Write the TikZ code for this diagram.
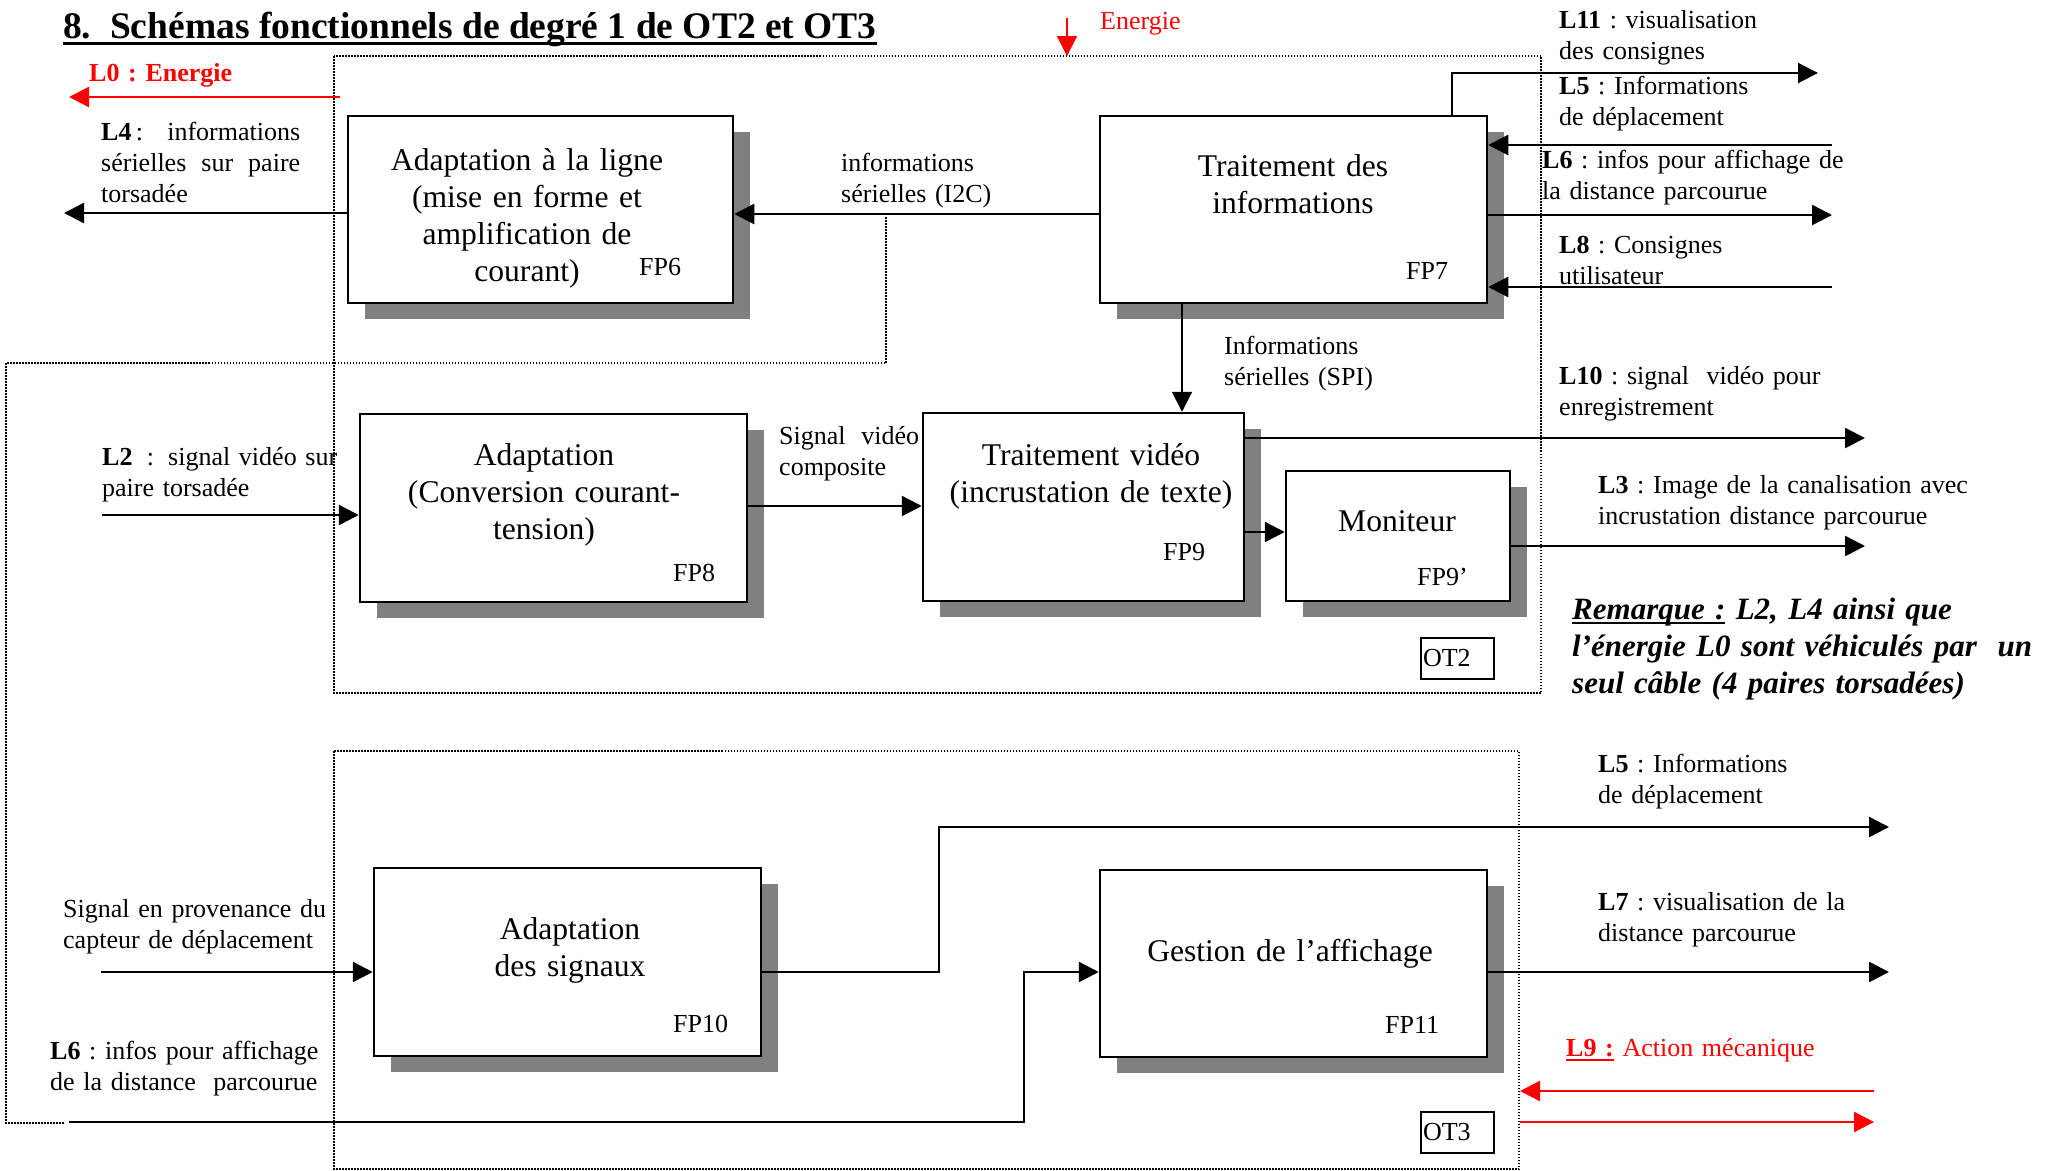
\documentclass[tikz,border=0pt]{standalone}
\usepackage{fontspec}
\setmainfont{Liberation Serif}
\usetikzlibrary{arrows.meta,shadows}
\definecolor{shadowgray}{HTML}{808080}
\frenchspacing
\newcommand\fsm{\fontsize{26}{31}\selectfont\frenchspacing}
\newcommand\fbg{\fontsize{31.6}{37}\selectfont\frenchspacing}
\newcommand\myul[1]{\setbox0\hbox{#1}\rlap{\rule[-5pt]{\wd0}{2.5pt}}\box0\relax}
\begin{document}
\begin{tikzpicture}[x=1pt,y=-1pt,
  fbox/.style={draw, line width=2.5pt, fill=white, inner sep=0pt,
    general shadow={fill=shadowgray, shadow xshift=17pt, shadow yshift=-16pt}},
  conn/.style={line width=2.5pt, -{Triangle[length=20pt,width=20pt]}},
  thinconn/.style={line width=2pt, -{Triangle[length=20pt,width=20pt]}},
  redconn/.style={red, line width=2.5pt, -{Triangle[length=20pt,width=20pt]}},
  dots/.style={line width=1.5pt, dash pattern=on 1.5pt off 1.5pt},
  lbl/.style={inner sep=0pt, anchor=base west, font=\fsm, text width=520pt, align=left},
  intxt/.style={inner sep=0pt, anchor=base, font=\fbg, text width=380pt, align=center},
  fp/.style={inner sep=0pt, anchor=base west, font=\fsm},
  otbox/.style={draw, line width=2pt, inner sep=2pt, minimum height=41pt, text width=69pt, align=left, font=\fsm}
]
\fill[white] (0,0) rectangle (2056,1170);
\useasboundingbox (0,0) rectangle (2056,1170);

% title
\node[inner sep=0pt, anchor=base west, font=\fontsize{37.5}{44}\selectfont\bfseries\frenchspacing] (title) at (63,38) {8.\ \ Schémas fonctionnels de degré 1 de OT2 et OT3};
\draw[line width=3pt] ([yshift=-5pt]title.base west) -- ([yshift=-5pt]title.base east);

% dotted frames
\draw[dots] (334,56) rectangle (1541,693);
\draw[dots] (886,217) -- (886,363) -- (6,363) -- (6,1123) -- (64,1123);
\draw[dots] (334,751) rectangle (1519,1169);

% boxes
\node[fbox, minimum width=385pt, minimum height=187pt] (FP6) at (540.5,209.5) {};
\node[fbox, minimum width=387pt, minimum height=187pt] (FP7) at (1293.5,209.5) {};
\node[fbox, minimum width=387pt, minimum height=188pt] (FP8) at (553.5,508) {};
\node[fbox, minimum width=321pt, minimum height=188pt] (FP9) at (1083.5,507) {};
\node[fbox, minimum width=224pt, minimum height=130pt] (MON) at (1398,536) {};
\node[fbox, minimum width=387pt, minimum height=188pt] (FP10) at (567.5,962) {};
\node[fbox, minimum width=387pt, minimum height=187pt] (FP11) at (1293.5,963.5) {};

\node[otbox] (OT2) at (1457.5,658.5) {OT2};
\node[otbox] (OT3) at (1457.5,1132) {OT3};

% box texts
\node[intxt] (t6) at (527,170) {Adaptation à la ligne\\(mise en forme et\\amplification de\\courant)};
\node[fp] (n6) at (639,275) {FP6};
\node[intxt] (t7) at (1293,176) {Traitement des\\informations};
\node[fp] (n7) at (1406,279) {FP7};
\node[intxt] (t8) at (544,465) {Adaptation\\(Conversion courant-\\tension)};
\node[fp] (n8) at (673,581) {FP8};
\node[intxt] (t9) at (1091,465) {Traitement vidéo\\(incrustation de texte)};
\node[fp] (n9) at (1163,560) {FP9};
\node[intxt] (tm) at (1397,531) {Moniteur};
\node[fp] (nm) at (1417,585) {FP9’};
\node[intxt] (t10) at (570,939) {Adaptation\\des signaux};
\node[fp] (n10) at (673,1032) {FP10};
\node[intxt] (t11) at (1290,961) {Gestion de l’affichage};
\node[fp] (n11) at (1385,1033) {FP11};

% connectors
\coordinate (L0a) at (340,97); \coordinate (L0b) at (69,97);
\draw[redconn] (L0a) -- (L0b);
\coordinate (Ea) at (1067,18); \coordinate (Eb) at (1067,56);
\draw[redconn, line width=2pt] (Ea) -- (Eb);
\coordinate (L4e) at (64,213);
\draw[conn] (FP6.west |- L4e) -- (L4e);
\coordinate (r214) at (0,214);
\draw[conn] (FP7.west |- r214) -- (FP6.east |- r214);
\coordinate (L11k) at (1452,73); \coordinate (L11e) at (1818,73);
\draw[thinconn] (FP7.north -| L11k) -- (L11k) -- (L11e);
\coordinate (L5s) at (1832,145);
\draw[conn] (L5s) -- (FP7.east |- L5s);
\coordinate (L6e) at (1832,215);
\draw[conn] (FP7.east |- L6e) -- (L6e);
\coordinate (L8s) at (1832,287);
\draw[conn] (L8s) -- (FP7.east |- L8s);
\coordinate (c1182) at (1182,0);
\draw[thinconn] (FP7.south -| c1182) -- (FP9.north -| c1182);
\coordinate (L2s) at (102,515);
\draw[conn] (L2s) -- (FP8.west |- L2s);
\coordinate (r506) at (0,506);
\draw[conn] (FP8.east |- r506) -- (FP9.west |- r506);
\coordinate (L10e) at (1865,438);
\draw[conn] (FP9.east |- L10e) -- (L10e);
\coordinate (r532) at (0,532);
\draw[conn] (FP9.east |- r532) -- (MON.west |- r532);
\coordinate (L3e) at (1865,546);
\draw[conn] (MON.east |- L3e) -- (L3e);
\coordinate (Ss) at (101,972);
\draw[conn] (Ss) -- (FP10.west |- Ss);
\coordinate (k939) at (939,827); \coordinate (L5e) at (1889,827);
\draw[conn] (FP10.east |- Ss) -| (k939) -- (L5e);
\coordinate (L6s) at (69,1122); \coordinate (k1024) at (1024,1122);
\draw[conn] (L6s) -- (k1024) |- (FP11.west |- Ss);
\coordinate (L7e) at (1889,972);
\draw[conn] (FP11.east |- L7e) -- (L7e);
\coordinate (L9a) at (1874,1091); \coordinate (L9b) at (1520,1091);
\draw[redconn] (L9a) -- (L9b);
\coordinate (L9c) at (1520,1122); \coordinate (L9d) at (1874,1122);
\draw[redconn] (L9c) -- (L9d);

% labels
\node[lbl, text=red] (tL0) at (89,81) {\textbf{L0 : Energie}};
\node[lbl, text=red] (tE) at (1100,29) {Energie};
\node[fp, text width=199pt, align=left] (tL4) at (101,140) {\textbf{L4}\,: \hfill informations\\sérielles\hfill sur\hfill paire\\torsadée};
\node[lbl] (tI2C) at (841,171) {informations\\sérielles (I2C)};
\node[lbl] (tL11) at (1559,28) {\textbf{L11} : visualisation\\des consignes};
\node[lbl] (tL5) at (1559,94) {\textbf{L5} : Informations\\de déplacement};
\node[lbl] (tL6) at (1542,168) {\textbf{L6} : infos pour affichage de\\la distance parcourue};
\node[lbl] (tL8) at (1559,253) {\textbf{L8} : Consignes\\utilisateur};
\node[lbl] (tSPI) at (1224,354) {Informations\\sérielles (SPI)};
\node[lbl] (tL10) at (1559,384) {\textbf{L10} : signal \ vidéo pour\\enregistrement};
\node[fp, text width=235pt, align=left] (tL2) at (102,465) {\textbf{L2}\hfill:\hfill signal vidéo sur\\paire torsadée};
\node[fp, text width=140pt, align=left] (tcomp) at (779,444) {Signal\hfill vidéo\\composite};
\node[lbl] (tL3) at (1598,493) {\textbf{L3} : Image de la canalisation avec\\incrustation distance parcourue};
\node[inner sep=0pt, anchor=base west, font=\fontsize{31}{37}\selectfont\bfseries\itshape\frenchspacing, text width=490pt, align=left] (trem) at (1572,619) {\myul{Remarque :} L2, L4 ainsi que\\l’énergie L0 sont véhiculés par \ un\\seul câble (4 paires torsadées)};
\node[lbl] (tL5b) at (1598,772) {\textbf{L5} : Informations\\de déplacement};
\node[lbl] (tsig) at (63,917) {Signal en provenance du\\capteur de déplacement};
\node[lbl] (tL7) at (1598,910) {\textbf{L7} : visualisation de la\\distance parcourue};
\node[lbl] (tL6b) at (50,1059) {\textbf{L6} : infos pour affichage\\de la distance \ parcourue};
\node[lbl, text=red] (tL9) at (1566,1056) {\myul{\textbf{L9 :}} Action mécanique};
\end{tikzpicture}
\end{document}
